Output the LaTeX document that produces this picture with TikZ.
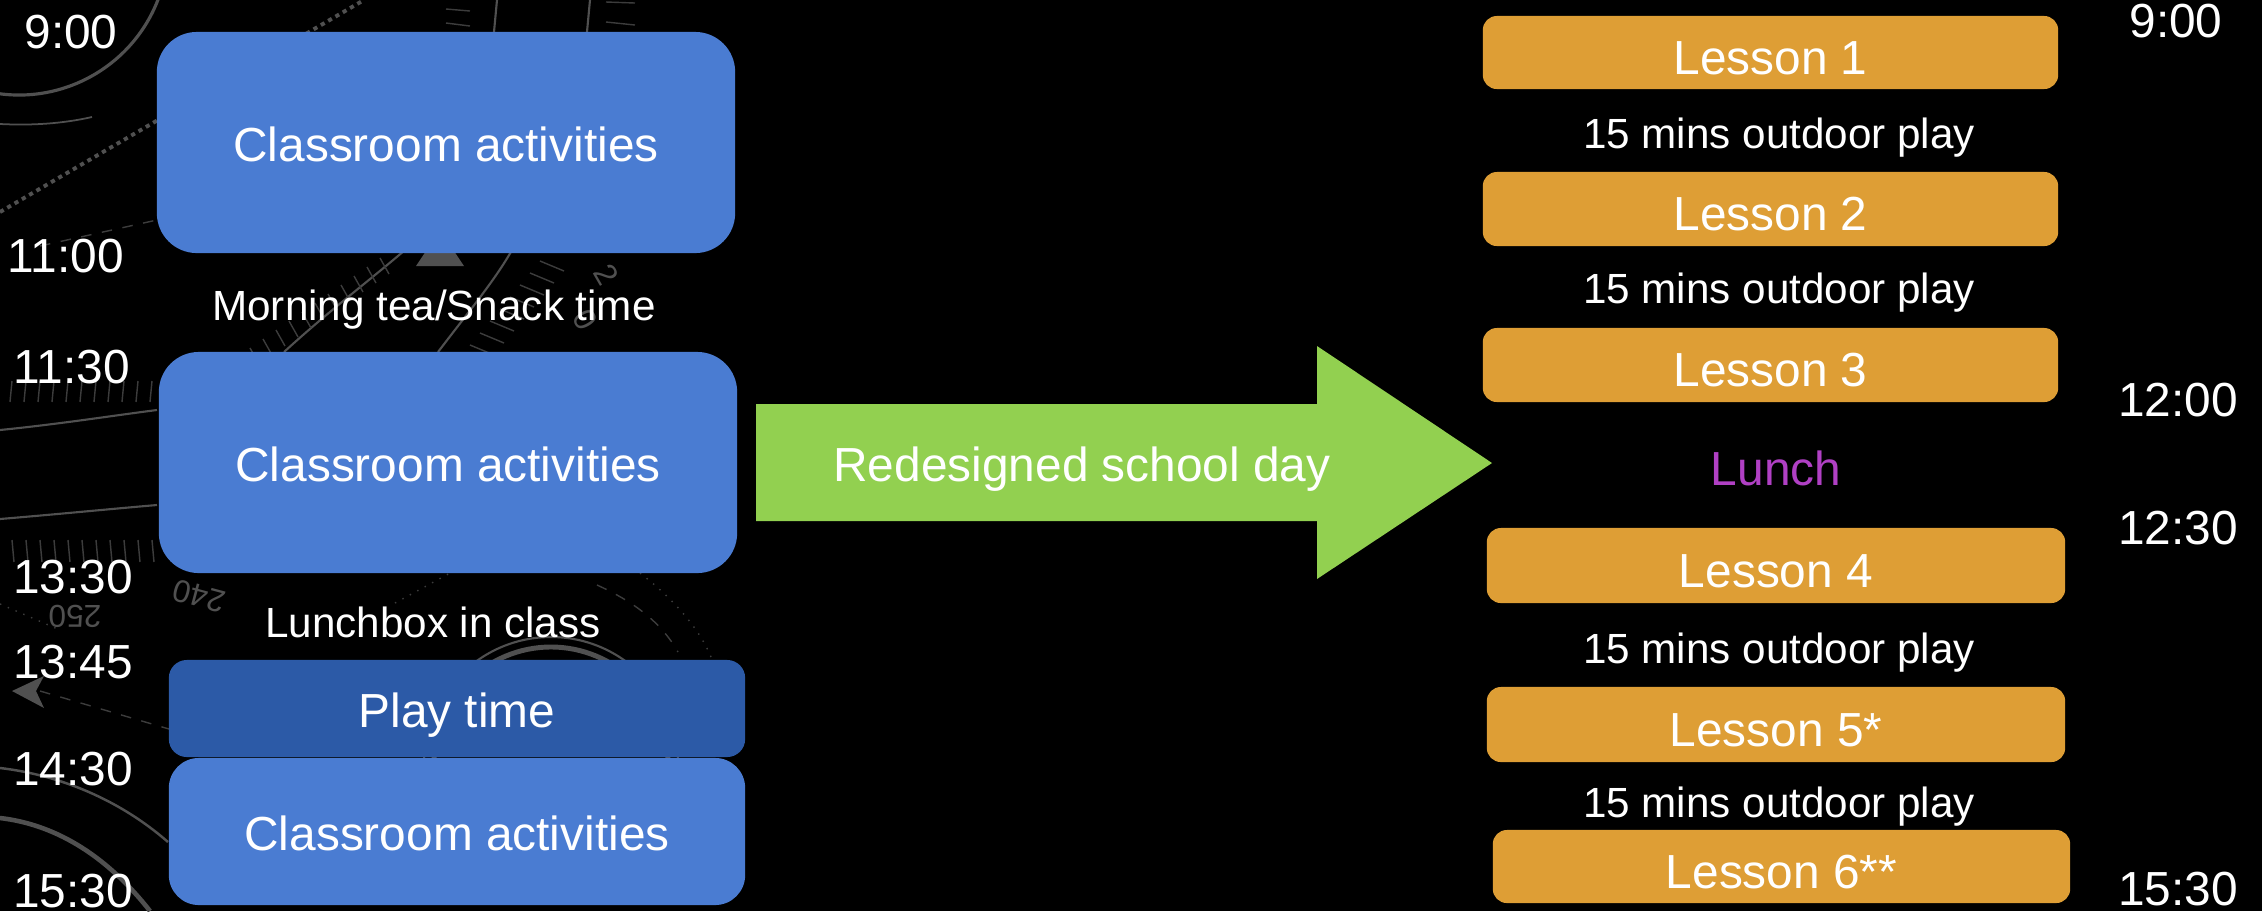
\documentclass[tikz,border=0pt]{standalone}
\usepackage{fontspec}
\setmainfont{Liberation Sans}
\definecolor{boxblue}{HTML}{4A7CD2}
\definecolor{playblue}{HTML}{2C5AA7}
\definecolor{lessonorange}{HTML}{DE9E35}
\definecolor{arrowgreen}{HTML}{92D050}
\definecolor{lunchpurple}{HTML}{B040C4}
\definecolor{deco}{HTML}{505050}
\definecolor{decodim}{HTML}{3C3C3C}
\tikzset{
  bigtext/.style={font=\fontsize{13.6}{16}\selectfont, text=white},
  smalltext/.style={font=\fontsize{12}{14}\selectfont, text=white},
  timelabel/.style={bigtext, anchor=base, inner sep=0pt},
  note/.style={smalltext, anchor=base, inner sep=0pt},
  bluebox/.style={bigtext, fill=boxblue, rounded corners=0.4cm, inner sep=0pt,
    text height=0.38cm, text depth=0pt},
  playbox/.style={bigtext, fill=playblue, rounded corners=0.18cm, inner sep=0pt,
    text height=0.38cm, text depth=0pt},
  lessonbox/.style={bigtext, fill=lessonorange, rounded corners=0.14cm, inner sep=0pt,
    text height=0.43cm, text depth=0pt},
  decoline/.style={draw=deco, line width=0.6pt},
  decothin/.style={draw=decodim, line width=0.4pt},
  deconum/.style={font=\fontsize{9}{10}\selectfont, text=deco, inner sep=0pt}
}
\begin{document}
\begin{tikzpicture}[x=0.01cm, y=-0.01cm]
\useasboundingbox (0,0) rectangle (2262,911);
\fill[black] (0,0) rectangle (2262,911);

% faint clock-face background
\begin{scope}
\clip (0,0) rectangle (2262,911);
\draw[decoline, line width=0.9pt] (19,-54) ++(15:149) arc[start angle=15, end angle=105, radius=149];
\draw[decoline, line width=0.5pt] (0,124) .. controls (40,126) and (70,122) .. (92,117);
\draw[decoline, line width=1.1pt, dash pattern=on 1.2pt off 1.2pt] (0,212) -- (364,0);
\draw[decothin, dashed] (40,246) -- (157,220);
\draw[decoline] (497,0) -- (494,32);
\draw[decoline] (590,0) -- (587,32);
\draw[decothin] (446,9) -- (470,11);
\draw[decothin] (446,23) -- (470,26);
\draw[decothin] (606,2) -- (635,3);
\draw[decothin] (606,22) -- (635,25);
% ticks and arcs near 11:30
\foreach \x in {12,26,...,152} \draw[decothin] (\x,381) -- (\x-2,402);
\draw[decoline] (0,430) .. controls (60,424) and (110,416) .. (157,410);
\draw[decoline] (0,519) .. controls (60,514) and (110,509) .. (157,505);
\foreach \x in {12,26,...,152} \draw[decothin] (\x,540) -- (\x+2,562);
\node[deconum, rotate=180] (n250) at (75,616) {250};
\node[deconum, rotate=165] (n240) at (199,596) {240};
\draw[decothin, dotted] (0,604) -- (60,630);
\fill[deco] (12,691) -- (44,676) -- (36,691) -- (44,708) -- cycle;
\draw[decothin, dashed] (40,691) -- (169,729);
\draw[decoline, line width=0.7pt] (0,768) .. controls (60,775) and (120,800) .. (168,842);
\draw[decoline, line width=1.3pt] (0,818) .. controls (60,825) and (110,860) .. (150,911);
% dial around morning tea
\fill[deco] (416,266) -- (464,266) -- (440,230) -- cycle;
\draw[decoline] (284,352) .. controls (330,310) and (370,280) .. (405,250);
\draw[decoline] (438,352) .. controls (470,310) and (495,280) .. (512,250);
\foreach \i in {0,...,10} \draw[decothin] (250+\i*13,348-\i*9) -- (259+\i*13,364-\i*9);
\foreach \i in {0,...,7} \draw[decothin] (470+\i*10,345-\i*12) -- (494+\i*10,355-\i*12);
\node[deconum, rotate=-60] (n2) at (606,275) {2};
\node[deconum, rotate=-60] (n0) at (585,320) {0};
% dial around lunchbox
\draw[decothin, dotted] (395,603) -- (452,572);
\draw[decothin, dashed] (597,585) .. controls (630,600) and (660,620) .. (678,652);
\draw[decothin, dotted] (640,573) .. controls (675,600) and (700,630) .. (711,657);
\draw[decoline] (551,764) circle[radius=127];
\draw[decoline, line width=1.4pt] (551,764) circle[radius=117];
\end{scope}

% left timeline
\node[timelabel] (t900l) at (71,48) {9:00};
\node[timelabel] (t1100l) at (66,272) {11:00};
\node[timelabel] (t1130l) at (72,383) {11:30};
\node[timelabel] (t1330l) at (73,593) {13:30};
\node[timelabel] (t1345l) at (73,678) {13:45};
\node[timelabel] (t1430l) at (73,785) {14:30};
\node[timelabel] (t1530l) at (73,907) {15:30};

\node[bluebox, minimum width=5.78cm, minimum height=2.21cm] (class1) at (446,142.5) {Classroom activities};
\node[note] (snack) at (434,320) {Morning tea/Snack time};
\node[bluebox, minimum width=5.78cm, minimum height=2.21cm] (class2) at (448,462.5) {Classroom activities};
\node[note] (lunchbox) at (433,637) {Lunchbox in class};
\node[playbox, minimum width=5.76cm, minimum height=0.97cm] (play) at (457,708.5) {Play time};
\node[bluebox, rounded corners=0.3cm, minimum width=5.76cm, minimum height=1.47cm] (class3) at (457,831.5) {Classroom activities};

% arrow
\fill[arrowgreen] (756,404) -- (1317,404) -- (1317,346) -- (1492,463) -- (1317,579) -- (1317,521) -- (756,521) -- cycle;
\node[bigtext, inner sep=0pt, text height=0.34cm, text depth=0pt] (redesign) at (1082,464.5) {Redesigned school day};

% right timeline
\node[lessonbox, minimum width=5.75cm, minimum height=0.73cm] (l1) at (1770.5,52.5) {Lesson 1};
\node[note] (p1) at (1779,148) {15 mins outdoor play};
\node[lessonbox, minimum width=5.75cm, minimum height=0.74cm] (l2) at (1770.5,209) {Lesson 2};
\node[note] (p2) at (1779,303) {15 mins outdoor play};
\node[lessonbox, minimum width=5.75cm, minimum height=0.74cm] (l3) at (1770.5,365) {Lesson 3};
\node[bigtext, anchor=base, inner sep=0pt, text=lunchpurple] (lunch) at (1776,485) {Lunch};
\node[lessonbox, minimum width=5.78cm, minimum height=0.75cm] (l4) at (1776,565.5) {Lesson 4};
\node[note] (p3) at (1779,663) {15 mins outdoor play};
\node[lessonbox, minimum width=5.78cm, minimum height=0.75cm] (l5) at (1776,724.5) {Lesson 5*};
\node[note] (p4) at (1779,817) {15 mins outdoor play};
\node[lessonbox, minimum width=5.77cm, minimum height=0.73cm] (l6) at (1781.5,866.5) {Lesson 6**};

\node[timelabel] (t900r) at (2176,37) {9:00};
\node[timelabel] (t1200r) at (2178,416) {12:00};
\node[timelabel] (t1230r) at (2178,544) {12:30};
\node[timelabel] (t1530r) at (2178,905) {15:30};
\end{tikzpicture}
\end{document}
